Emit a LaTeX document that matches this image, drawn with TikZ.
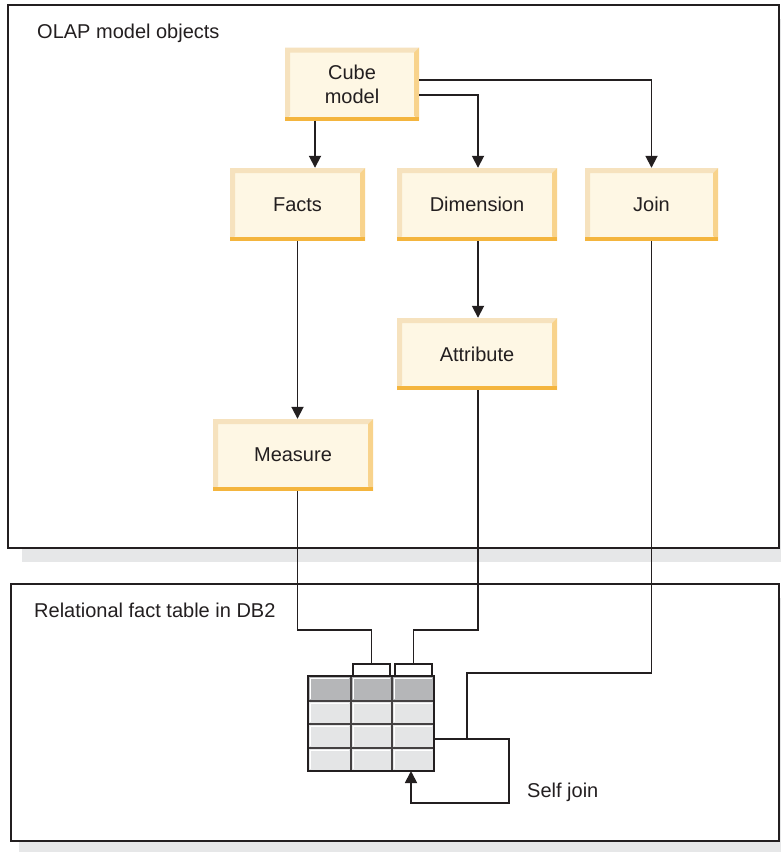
\documentclass[tikz,border=0pt]{standalone}
\usepackage{fontspec}
\setmainfont{Liberation Sans}
\usetikzlibrary{arrows.meta, calc, positioning}
\definecolor{inkC}{HTML}{231F20}
\definecolor{boxFill}{HTML}{FEF7E4}
\definecolor{bevLight}{HTML}{F6E2BE}
\definecolor{bevDark}{HTML}{F8D38C}
\definecolor{bevOrange}{HTML}{F4B53E}
\definecolor{shadowC}{HTML}{E6E7E8}
\definecolor{headC}{HTML}{B5B6B8}
\definecolor{cellC}{HTML}{E4E5E6}
\tikzset{
    objBox/.style={
        fill=boxFill, inner sep=0pt, align=center, text=inkC,
        font=\fontsize{20}{24}\selectfont, minimum height=73pt,
        path picture={
            \fill[bevLight] (path picture bounding box.north west) -- (path picture bounding box.north east)
                -- ++(-5pt,-5pt) -| ($(path picture bounding box.south west)+(5pt,5pt)$)
                -- (path picture bounding box.south west) -- cycle;
            \fill[bevDark] (path picture bounding box.north east) -- ++(-5pt,-5pt)
                -- ($(path picture bounding box.south east)+(-5pt,5pt)$) -- (path picture bounding box.south east) -- cycle;
            \fill[bevOrange] (path picture bounding box.south west) rectangle ($(path picture bounding box.south east)+(0pt,4pt)$);
        }
    },
    connA/.style={draw=inkC, line width=1.8pt, -{Triangle[length=12pt,width=12pt]}},
    lineA/.style={draw=inkC, line width=1.8pt},
    panelBox/.style={draw=inkC, line width=1.6pt, fill=white},
    lbl/.style={inner sep=0pt, text=inkC, font=\fontsize{20}{24}\selectfont}
}
\begin{document}
\begin{tikzpicture}[x=1pt, y=-1pt]
    \useasboundingbox (0,0) rectangle (781,852);
    % panels
    \fill[shadowC] (22,19) rectangle (795,562);
    \draw[panelBox] (8,5) rectangle (779,548);
    \fill[shadowC] (19,598) rectangle (795,866);
    \draw[panelBox] (11,584) rectangle (779,841);
    \node[lbl, anchor=west] (olapLbl) at (37,33) {OLAP model objects};
    \node[lbl, anchor=west] (relLbl) at (34,610) {Relational fact table in DB2};
    % model objects
    \node[objBox, minimum width=134pt] (cube) at (352,84) {Cube\\model};
    \node[objBox, minimum width=135pt] (facts) at (297.5,204.5) {Facts};
    \node[objBox, minimum width=160pt] (dim) at (477,204.5) {Dimension};
    \node[objBox, minimum width=133pt] (join) at (651.5,204.5) {Join};
    \node[objBox, minimum width=160pt, minimum height=72pt] (attr) at (477,354) {Attribute};
    \node[objBox, minimum width=160pt, minimum height=72pt] (measure) at (293,455) {Measure};
    \draw[connA] ($(cube.south)+(-37,0)$) -- ($(facts.north)+(17.5,0)$);
    \draw[connA] ($(cube.east)+(0,-4)$) -| (join.north);
    \draw[connA] ($(cube.east)+(0,11)$) -| ($(dim.north)+(1,0)$);
    \draw[connA] ($(dim.south)+(1,0)$) -- ($(attr.north)+(1,0)$);
    \draw[connA] (facts.south) -- (facts.south |- measure.north);
    % fact table
    \foreach \xa/\xb in {308/351,351/392,392/434} {
        \fill[headC] (\xa,676) rectangle (\xb,701);
        \draw[white, line width=1pt] (\xa+2.5,699) -- (\xa+2.5,678.5) -- (\xb-2,678.5);
        \foreach \ya/\yb in {701/724,724/748,748/771} {
            \fill[cellC] (\xa,\ya) rectangle (\xb,\yb);
            \draw[white, line width=1pt] (\xa+2.5,\yb-2) -- (\xa+2.5,\ya+2.5) -- (\xb-2,\ya+2.5);
        }
    }
    \foreach \ya in {701,724,748} \draw[inkC!85, line width=1.3pt] (308,\ya) -- (434,\ya);
    \foreach \xa in {351,392} \draw[inkC!85, line width=1.3pt] (\xa,676) -- (\xa,771);
    \node[draw=inkC, line width=2pt, minimum width=126pt, minimum height=95pt, inner sep=0pt] (tbl) at (371,723.5) {};
    \coordinate (colA) at (371.5,664);
    \coordinate (colB) at (413.5,664);
    \draw[lineA] (353,676) -- (353,664) -- (390,664) -- (390,676);
    \draw[lineA] (395,676) -- (395,664) -- (432,664) -- (432,676);
    % mappings to table
    \draw[lineA] ($(facts.south |- measure.south)$) |- ($(colA)+(0,-34)$) -- (colA);
    \draw[lineA] ($(attr.south)+(1,0)$) |- ($(colB)+(0,-34)$) -- (colB);
    \coordinate (joinIn) at (467,739);
    \coordinate (sjOut) at (434,739);
    \coordinate (sjTurn) at (509,803);
    \coordinate (sjIn) at (411,771);
    \draw[lineA] (join.south) |- ($(joinIn)+(0,-66)$) -- (joinIn);
    \draw[connA] (sjOut) -| (sjTurn) -| (sjIn);
    \node[lbl, anchor=west] (selfLbl) at (527,792) {Self join};
\end{tikzpicture}
\end{document}
